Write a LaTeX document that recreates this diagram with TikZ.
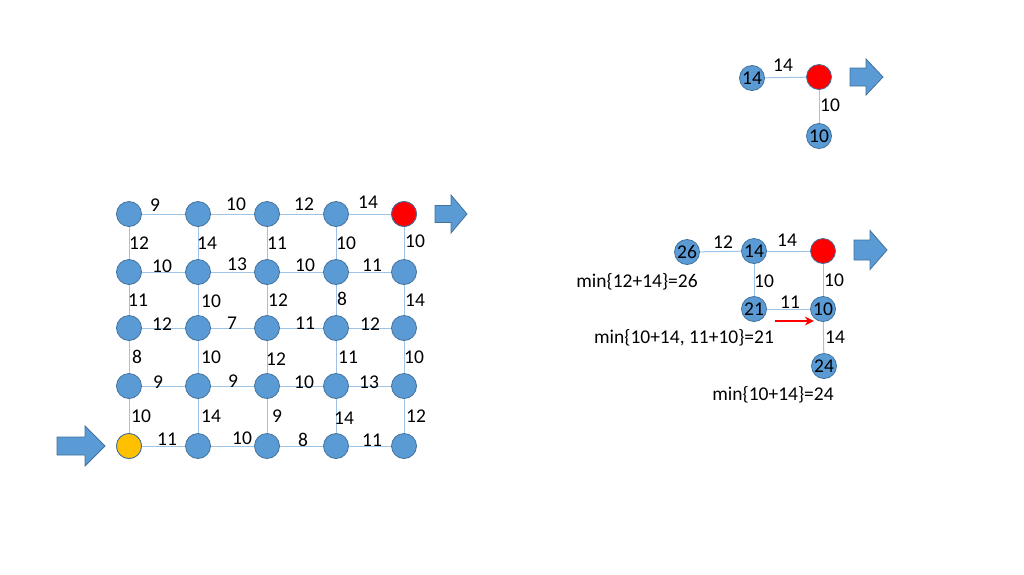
\documentclass[tikz,border=0pt]{standalone}
\usepackage{fontspec}
\setmainfont{Carlito}
\usetikzlibrary{arrows.meta}
\definecolor{nblue}{HTML}{5B9BD5}
\definecolor{nline}{HTML}{41719C}
\definecolor{eline}{HTML}{9DC3E6}
\definecolor{nyellow}{HTML}{FFC000}
\definecolor{nred}{HTML}{FF0000}
\tikzset{
  vtx/.style={circle,fill=nblue,draw=nline,line width=0.8pt,minimum size=25pt,inner sep=0pt,font=\fontsize{19.5}{22}\selectfont},
  startv/.style={vtx,fill=nyellow,draw=nline},
  endv/.style={vtx,fill=nred,draw=nline},
  edgeln/.style={draw=eline,line width=1pt},
  lbl/.style={inner sep=0pt,font=\fontsize{19.5}{22}\selectfont},
  barrow/.style={fill=nblue,draw=nline,line width=0.8pt,line join=miter},
}
\newcommand{\blockarrow}[6]{%
  \draw[barrow] (#1,#4-#5) -- (#3,#4-#5) -- (#3,#4-#6) -- (#2,#4) -- (#3,#4+#6) -- (#3,#4+#5) -- (#1,#4+#5) -- cycle;}
\begin{document}
\begin{tikzpicture}[x=1pt,y=-1pt]
\useasboundingbox (0,0) rectangle (1024,574);
% grid nodes
\foreach \r/\y in {1/214,2/272,3/328,4/386,5/446}{
  \foreach \c/\x in {1/129,2/198,3/267,4/336,5/404}{
    \coordinate (p-\r-\c) at (\x,\y);
  }
}
% edges first
\foreach \r in {1,...,5}{
  \foreach \c/\d in {1/2,2/3,3/4,4/5}{
    \draw[edgeln] (p-\r-\c) -- (p-\r-\d);
  }
}
\foreach \r/\s in {1/2,2/3,3/4,4/5}{
  \foreach \c in {1,...,5}{
    \draw[edgeln] (p-\r-\c) -- (p-\s-\c);
  }
}
\foreach \r in {1,...,5}{
  \foreach \c in {1,...,5}{
    \node[vtx] (g-\r-\c) at (p-\r-\c) {};
  }
}
\node[startv] (start) at (p-5-1) {};
\node[endv] (goal) at (p-1-5) {};
% horizontal labels
\node[lbl] (h11) at (155,205) {9};
\node[lbl] (h12) at (236,204) {10};
\node[lbl] (h13) at (304,204) {12};
\node[lbl] (h14) at (368,202) {14};
\node[lbl] (h21) at (162,266) {10};
\node[lbl] (h22) at (237,264) {13};
\node[lbl] (h23) at (305,265) {10};
\node[lbl] (h24) at (372,265) {11};
\node[lbl] (h31) at (162,324) {12};
\node[lbl] (h32) at (232,323) {7};
\node[lbl] (h33) at (305,323) {11};
\node[lbl] (h34) at (370,324) {12};
\node[lbl] (h41) at (158,382) {9};
\node[lbl] (h42) at (233,381) {9};
\node[lbl] (h43) at (304,382) {10};
\node[lbl] (h44) at (369,382) {13};
\node[lbl] (h51) at (167,439) {11};
\node[lbl] (h52) at (242,438) {10};
\node[lbl] (h53) at (303,440) {8};
\node[lbl] (h54) at (372,440) {11};
% vertical labels
\node[lbl] (v11) at (139,243) {12};
\node[lbl] (v12) at (207,243) {14};
\node[lbl] (v13) at (277,243) {11};
\node[lbl] (v14) at (346,243) {10};
\node[lbl] (v15) at (415,241) {10};
\node[lbl] (v21) at (138,300) {11};
\node[lbl] (v22) at (211,301) {10};
\node[lbl] (v23) at (278,300) {12};
\node[lbl] (v24) at (342,299) {8};
\node[lbl] (v25) at (415,300) {14};
\node[lbl] (v31) at (137,357) {8};
\node[lbl] (v32) at (211,357) {10};
\node[lbl] (v33) at (276,359) {12};
\node[lbl] (v34) at (348,357) {11};
\node[lbl] (v35) at (414,357) {10};
\node[lbl] (v41) at (141,416) {10};
\node[lbl] (v42) at (211,416) {14};
\node[lbl] (v43) at (277,416) {9};
\node[lbl] (v44) at (344,418) {14};
\node[lbl] (v45) at (416,416) {12};
% block arrows
\blockarrow{57}{105}{85}{446}{9}{20}
\blockarrow{435}{467}{451}{214}{8.5}{19}
\blockarrow{854}{887}{870}{250}{10}{19.5}
\blockarrow{850}{883}{866}{77}{9}{18}
% top panel
\draw[edgeln] (752,78) -- (819,77);
\draw[edgeln] (819,77) -- (819,136);
\node[vtx] (t14) at (752,78) {14};
\node[endv] (tred) at (819,77) {};
\node[vtx] (t10) at (819,136) {10};
\node[lbl] (tl1) at (783,65) {14};
\node[lbl] (tl2) at (830,105) {10};
% right panel
\coordinate (q26) at (687,252);
\coordinate (q14) at (754,251);
\coordinate (qred) at (823,251);
\coordinate (q21) at (754,309);
\coordinate (q10) at (823,309);
\coordinate (q24) at (824,366);
\draw[edgeln] (q26) -- (q14);
\draw[edgeln] (q14) -- (qred);
\draw[edgeln] (q14) -- (q21);
\draw[edgeln] (qred) -- (q10);
\draw[edgeln] (q21) -- (q10);
\draw[edgeln] (q10) -- (q24);
\node[vtx] (r26) at (q26) {26};
\node[vtx] (r14) at (q14) {14};
\node[endv] (rred) at (qred) {};
\node[vtx] (r21) at (q21) {21};
\node[vtx] (r10) at (q10) {10};
\node[vtx] (r24) at (q24) {24};
\node[lbl] (rl1) at (723,242) {12};
\node[lbl] (rl2) at (787,240) {14};
\node[lbl] (rl3) at (764,281) {10};
\node[lbl] (rl4) at (834,280) {10};
\node[lbl] (rl5) at (790,302) {11};
\node[lbl] (rl6) at (835,337) {14};
\node[lbl] (m1) at (637,282) {min\{12+14\}=26};
\node[lbl] (m2) at (684,338) {min\{10+14, 11+10\}=21};
\node[lbl] (m3) at (773,395) {min\{10+14\}=24};
\coordinate (ra0) at (775,321);
\draw[nred,line width=2.6pt,-{Stealth[length=9pt,width=9pt]}] (ra0) -- (r10.south west |- ra0);
\end{tikzpicture}
\end{document}
